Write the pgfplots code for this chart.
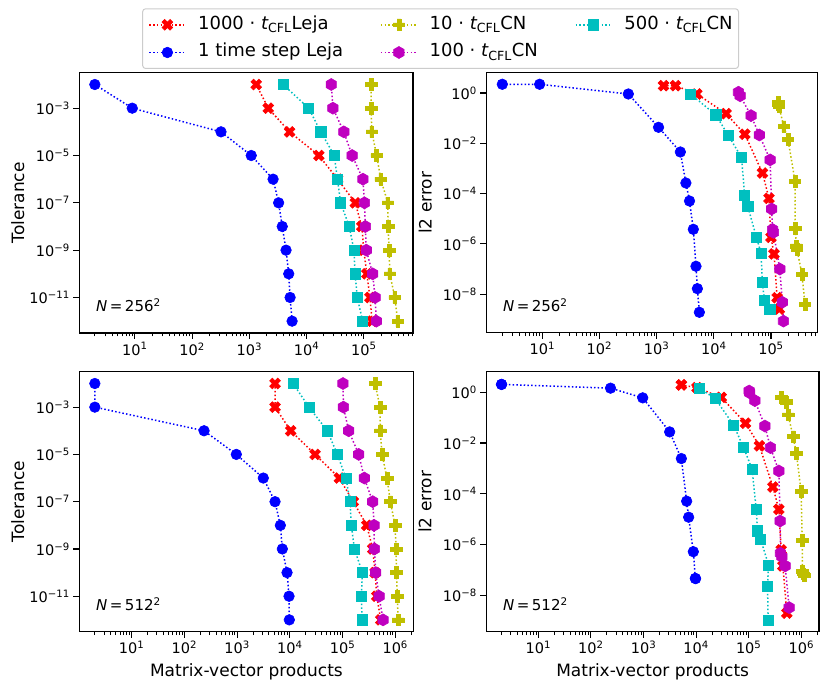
\documentclass[border=0pt]{standalone}
\usepackage{fontspec}
\setmainfont{DejaVu Sans}
\usepackage{pgfplots}
\pgfplotsset{compat=1.18}

\definecolor{mplred}{rgb}{1,0,0}
\definecolor{mplblue}{rgb}{0,0,1}
\definecolor{mply}{rgb}{0.75,0.75,0}
\definecolor{mplm}{rgb}{0.75,0,0.75}
\definecolor{mplc}{rgb}{0,0.75,0.75}

\newcommand{\tickfont}{\fontsize{14.5}{17}\selectfont}
\newcommand{\labfont}{\fontsize{17}{20}\selectfont}
\newcommand{\legfont}{\fontsize{18}{21}\selectfont}
\newcommand{\nfont}{\fontsize{15}{18}\selectfont}

\pgfdeclareplotmark{Xf}{%
  \pgfpathmoveto{\pgfqpoint{0.4714\pgfplotmarksize}{-0.9428\pgfplotmarksize}}%
  \pgfpathlineto{\pgfqpoint{0pt}{-0.4714\pgfplotmarksize}}%
  \pgfpathlineto{\pgfqpoint{-0.4714\pgfplotmarksize}{-0.9428\pgfplotmarksize}}%
  \pgfpathlineto{\pgfqpoint{-0.9428\pgfplotmarksize}{-0.4714\pgfplotmarksize}}%
  \pgfpathlineto{\pgfqpoint{-0.4714\pgfplotmarksize}{0pt}}%
  \pgfpathlineto{\pgfqpoint{-0.9428\pgfplotmarksize}{0.4714\pgfplotmarksize}}%
  \pgfpathlineto{\pgfqpoint{-0.4714\pgfplotmarksize}{0.9428\pgfplotmarksize}}%
  \pgfpathlineto{\pgfqpoint{0pt}{0.4714\pgfplotmarksize}}%
  \pgfpathlineto{\pgfqpoint{0.4714\pgfplotmarksize}{0.9428\pgfplotmarksize}}%
  \pgfpathlineto{\pgfqpoint{0.9428\pgfplotmarksize}{0.4714\pgfplotmarksize}}%
  \pgfpathlineto{\pgfqpoint{0.4714\pgfplotmarksize}{0pt}}%
  \pgfpathlineto{\pgfqpoint{0.9428\pgfplotmarksize}{-0.4714\pgfplotmarksize}}%
  \pgfpathclose\pgfusepathqfillstroke}
\pgfdeclareplotmark{Pf}{%
  \pgfpathmoveto{\pgfqpoint{-0.3333\pgfplotmarksize}{-\pgfplotmarksize}}%
  \pgfpathlineto{\pgfqpoint{-0.3333\pgfplotmarksize}{-0.3333\pgfplotmarksize}}%
  \pgfpathlineto{\pgfqpoint{-\pgfplotmarksize}{-0.3333\pgfplotmarksize}}%
  \pgfpathlineto{\pgfqpoint{-\pgfplotmarksize}{0.3333\pgfplotmarksize}}%
  \pgfpathlineto{\pgfqpoint{-0.3333\pgfplotmarksize}{0.3333\pgfplotmarksize}}%
  \pgfpathlineto{\pgfqpoint{-0.3333\pgfplotmarksize}{\pgfplotmarksize}}%
  \pgfpathlineto{\pgfqpoint{0.3333\pgfplotmarksize}{\pgfplotmarksize}}%
  \pgfpathlineto{\pgfqpoint{0.3333\pgfplotmarksize}{0.3333\pgfplotmarksize}}%
  \pgfpathlineto{\pgfqpoint{\pgfplotmarksize}{0.3333\pgfplotmarksize}}%
  \pgfpathlineto{\pgfqpoint{\pgfplotmarksize}{-0.3333\pgfplotmarksize}}%
  \pgfpathlineto{\pgfqpoint{0.3333\pgfplotmarksize}{-0.3333\pgfplotmarksize}}%
  \pgfpathlineto{\pgfqpoint{0.3333\pgfplotmarksize}{-\pgfplotmarksize}}%
  \pgfpathclose\pgfusepathqfillstroke}
\pgfdeclareplotmark{Hf}{%
  \pgfpathmoveto{\pgfqpoint{0pt}{\pgfplotmarksize}}%
  \pgfpathlineto{\pgfqpoint{-0.866\pgfplotmarksize}{0.5\pgfplotmarksize}}%
  \pgfpathlineto{\pgfqpoint{-0.866\pgfplotmarksize}{-0.5\pgfplotmarksize}}%
  \pgfpathlineto{\pgfqpoint{0pt}{-\pgfplotmarksize}}%
  \pgfpathlineto{\pgfqpoint{0.866\pgfplotmarksize}{-0.5\pgfplotmarksize}}%
  \pgfpathlineto{\pgfqpoint{0.866\pgfplotmarksize}{0.5\pgfplotmarksize}}%
  \pgfpathclose\pgfusepathqfillstroke}

\tikzset{
  dotline/.style={line width=1.5pt, dash pattern=on 1.5pt off 2.2pt},
  sred/.style={dotline, color=mplred, mark=Xf, mark size=5.7pt, mark options={solid, fill=mplred, line width=0.6pt}},
  sblue/.style={dotline, color=mplblue, mark=*, mark size=5.3pt, mark options={solid, fill=mplblue, line width=0.6pt}},
  syel/.style={dotline, color=mply, mark=Pf, mark size=5.8pt, mark options={solid, fill=mply, line width=0.6pt}},
  smag/.style={dotline, color=mplm, mark=Hf, mark size=6pt, mark options={solid, fill=mplm, line width=0.6pt}},
  scyan/.style={dotline, color=mplc, mark=square*, mark size=5.1pt, mark options={solid, fill=mplc, line width=0.6pt}},
}

\pgfplotsset{
  scale only axis,
  tick align=outside, tick pos=left,
  major tick length=6pt, minor tick length=3.5pt,
  every major tick/.append style={black, line width=1.1pt},
  every minor tick/.append style={black, line width=0.8pt},
  axis line style={line width=1.1pt, black},
  every tick label/.append style={font=\tickfont},
  every axis label/.append style={font=\labfont},
  every axis y label/.append style={at={(axis description cs:-0.184,0.5)}, anchor=center},
  every axis x label/.append style={at={(axis description cs:0.5,-0.155)}, anchor=center},
}

\begin{document}
\begin{tikzpicture}
\useasboundingbox (0pt,0pt) rectangle (830pt,692pt);

% ---------------- top left ----------------
\begin{axis}[xmode=log, ymode=log, yminorticks=false,
  minor xtick={2,3,4,5,6,7,8,9,20,30,40,50,60,70,80,90,200,300,400,500,600,700,800,900,2e3,3e3,4e3,5e3,6e3,7e3,8e3,9e3,2e4,3e4,4e4,5e4,6e4,7e4,8e4,9e4,2e5,3e5,4e5,5e5,6e5,7e5},
  xtick={1e1,1e2,1e3,1e4,1e5},
  xticklabels={10\textsuperscript{1},10\textsuperscript{2},10\textsuperscript{3},10\textsuperscript{4},10\textsuperscript{5}},
  ytick={1e-3,1e-5,1e-7,1e-9,1e-11},
  yticklabels={10\textsuperscript{−3},10\textsuperscript{−5},10\textsuperscript{−7},10\textsuperscript{−9},10\textsuperscript{−11}},
  ylabel={Tolerance}, ymin=3.16e-13, ymax=3.16e-2,
  at={(79.3pt,359pt)}, anchor=south west,
  width=333.7pt, height=260.3pt, xmin=1.07, xmax=7.24e5,
  legend image code/.code={\draw[mark repeat=2,mark phase=2,#1] plot coordinates {(0pt,0pt) (18pt,0pt) (36pt,0pt)};},
  legend columns=3, legend cell align=left,
  legend style={at={(axis description cs:1.0827,1.0142)}, anchor=south,
    draw=black!20, rounded corners=3pt, line width=1pt, font=\legfont,
    inner xsep=6pt, inner ysep=7.5pt, row sep=10.7pt,
    nodes={inner xsep=0pt, inner ysep=0pt, text height=13pt, text depth=4pt},
    /tikz/every odd column/.append style={column sep=12pt},
    /tikz/every even column/.append style={column sep=37pt}}]
\addplot[sred, forget plot] coordinates {(1320,1e-2) (2140,1e-3) (5050,1e-4) (16400,1e-5) (34900,1e-6) (71000,1e-7) (92300,1e-8) (100000,1e-9) (113000,1e-10) (128000,1e-11) (140000,1e-12)};
\addplot[sblue, forget plot] coordinates {(2,1e-2) (9,1e-3) (320,1e-4) (1080,1e-5) (2600,1e-6) (3250,1e-7) (3760,1e-8) (4380,1e-9) (4880,1e-10) (5160,1e-11) (5590,1e-12)};
\addplot[syel, forget plot] coordinates {(134000,1e-2) (134000,1e-3) (138000,1e-4) (168000,1e-5) (198000,1e-6) (263000,1e-7) (266000,1e-8) (277000,1e-9) (285000,1e-10) (348000,1e-11) (393000,1e-12)};
\addplot[smag, forget plot] coordinates {(27000,1e-2) (28900,1e-3) (44750,1e-4) (62500,1e-5) (96700,1e-6) (102800,1e-7) (106500,1e-8) (110500,1e-9) (143000,1e-10) (157500,1e-11) (165500,1e-12)};
\addplot[scyan, forget plot] coordinates {(3900,1e-2) (10850,1e-3) (17750,1e-4) (30500,1e-5) (34700,1e-6) (39350,1e-7) (55750,1e-8) (67250,1e-9) (70500,1e-10) (77000,1e-11) (95500,1e-12)};
\addlegendimage{sred}\addlegendentry{1000 · {\itshape t}\textsubscript{CFL}Leja}
\addlegendimage{syel}\addlegendentry{10 · {\itshape t}\textsubscript{CFL}CN}
\addlegendimage{scyan}\addlegendentry{500 · {\itshape t}\textsubscript{CFL}CN}
\addlegendimage{sblue}\addlegendentry{1 time step Leja}
\addlegendimage{smag}\addlegendentry{100 · {\itshape t}\textsubscript{CFL}CN}
\node[anchor=base west, font=\nfont, inner sep=0pt] at (axis description cs:0.05,0.082) {{\itshape N}\,=\,256\textsuperscript{2}};
\end{axis}

% ---------------- top right ----------------
\begin{axis}[xmode=log, ymode=log, yminorticks=false,
  minor xtick={2,3,4,5,6,7,8,9,20,30,40,50,60,70,80,90,200,300,400,500,600,700,800,900,2e3,3e3,4e3,5e3,6e3,7e3,8e3,9e3,2e4,3e4,4e4,5e4,6e4,7e4,8e4,9e4,2e5,3e5,4e5,5e5,6e5},
  xtick={1e1,1e2,1e3,1e4,1e5},
  xticklabels={10\textsuperscript{1},10\textsuperscript{2},10\textsuperscript{3},10\textsuperscript{4},10\textsuperscript{5}},
  ytick={1,1e-2,1e-4,1e-6,1e-8},
  yticklabels={10\textsuperscript{0},10\textsuperscript{−2},10\textsuperscript{−4},10\textsuperscript{−6},10\textsuperscript{−8}},
  ylabel={l2 error},
  at={(486.3pt,359.3pt)}, anchor=south west,
  width=331pt, height=260pt, xmin=1.05, xmax=6.46e5, ymin=2.95e-10, ymax=6.41]
\addplot[sred] coordinates {(1320,1.95) (2140,1.95) (5050,0.912) (16400,0.151) (34900,0.0229) (71000,6.61e-4) (92300,6.46e-5) (100000,1.82e-6) (113000,3.98e-7) (128000,7.24e-9) (140000,2.57e-9)};
\addplot[sblue] coordinates {(2,2.22) (9,2.22) (320,0.912) (1080,0.0432) (2600,4.51e-3) (3250,2.64e-4) (3760,5.08e-5) (4380,3.80e-6) (4880,1.29e-7) (5160,1.66e-8) (5590,1.91e-9)};
\addplot[syel] coordinates {(134000,0.427) (134000,0.363) (138000,0.288) (168000,0.0457) (198000,0.0148) (263000,3.16e-4) (266000,4.17e-6) (277000,8.32e-7) (285000,6.03e-7) (348000,6.17e-8) (393000,4.07e-9)};
\addplot[smag] coordinates {(27000,1.07) (28900,0.776) (44750,0.126) (62500,0.0214) (96700,2.19e-3) (102800,2.45e-5) (106500,3.72e-6) (110500,2.88e-6) (143000,1.0e-7) (157500,4.79e-9) (165500,8.51e-10)};
\addplot[scyan] coordinates {(3900,0.912) (10850,0.135) (17750,0.0214) (30500,2.75e-3) (34700,8.71e-5) (39350,3.02e-5) (55750,1.82e-6) (67250,4.17e-7) (70500,3.02e-8) (77000,5.75e-9) (95500,2.57e-9)};
\node[anchor=base west, font=\nfont, inner sep=0pt] at (axis description cs:0.05,0.082) {{\itshape N}\,=\,256\textsuperscript{2}};
\end{axis}

% ---------------- bottom left ----------------
\begin{axis}[xmode=log, ymode=log, yminorticks=false,
  minor xtick={2,3,4,5,6,7,8,9,20,30,40,50,60,70,80,90,200,300,400,500,600,700,800,900,2e3,3e3,4e3,5e3,6e3,7e3,8e3,9e3,2e4,3e4,4e4,5e4,6e4,7e4,8e4,9e4,2e5,3e5,4e5,5e5,6e5,7e5,8e5,9e5,2e6},
  xtick={1e1,1e2,1e3,1e4,1e5,1e6},
  xticklabels={10\textsuperscript{1},10\textsuperscript{2},10\textsuperscript{3},10\textsuperscript{4},10\textsuperscript{5},10\textsuperscript{6}},
  xlabel={Matrix-vector products},
  ytick={1e-3,1e-5,1e-7,1e-9,1e-11},
  yticklabels={10\textsuperscript{−3},10\textsuperscript{−5},10\textsuperscript{−7},10\textsuperscript{−9},10\textsuperscript{−11}},
  ylabel={Tolerance}, ymin=3.16e-13, ymax=3.16e-2,
  at={(79.3pt,60.3pt)}, anchor=south west,
  width=334.2pt, height=260pt, xmin=1.014, xmax=2.22e6]
\addplot[sred] coordinates {(5240,1e-2) (5240,1e-3) (10400,1e-4) (30100,1e-5) (86900,1e-6) (160000,1e-7) (288000,1e-8) (374000,1e-9) (414000,1e-10) (446000,1e-11) (531000,1e-12)};
\addplot[sblue] coordinates {(2,1e-2) (2,1e-3) (236,1e-4) (966,1e-5) (3140,1e-6) (5240,1e-7) (6610,1e-8) (7210,1e-9) (8850,1e-10) (9660,1e-11) (9780,1e-12)};
\addplot[syel] coordinates {(414000,1e-2) (515000,1e-3) (521000,1e-4) (562000,1e-5) (698000,1e-6) (807000,1e-7) (991000,1e-8) (1040000,1e-9) (1050000,1e-10) (1100000,1e-11) (1130000,1e-12)};
\addplot[smag] coordinates {(102000,1e-2) (104000,1e-3) (131000,1e-4) (203000,1e-5) (259000,1e-6) (374000,1e-7) (396000,1e-8) (402000,1e-9) (426000,1e-10) (493000,1e-11) (587000,1e-12)};
\addplot[scyan] coordinates {(11500,1e-2) (23100,1e-3) (51500,1e-4) (79800,1e-5) (116000,1e-6) (139000,1e-7) (147000,1e-8) (168000,1e-9) (238000,1e-10) (228000,1e-11) (234000,1e-12)};
\node[anchor=base west, font=\nfont, inner sep=0pt] at (axis description cs:0.05,0.082) {{\itshape N}\,=\,512\textsuperscript{2}};
\end{axis}

% ---------------- bottom right ----------------
\begin{axis}[xmode=log, ymode=log, yminorticks=false,
  minor xtick={2,3,4,5,6,7,8,9,20,30,40,50,60,70,80,90,200,300,400,500,600,700,800,900,2e3,3e3,4e3,5e3,6e3,7e3,8e3,9e3,2e4,3e4,4e4,5e4,6e4,7e4,8e4,9e4,2e5,3e5,4e5,5e5,6e5,7e5,8e5,9e5,2e6},
  xtick={1e1,1e2,1e3,1e4,1e5,1e6},
  xticklabels={10\textsuperscript{1},10\textsuperscript{2},10\textsuperscript{3},10\textsuperscript{4},10\textsuperscript{5},10\textsuperscript{6}},
  xlabel={Matrix-vector products},
  ytick={1,1e-2,1e-4,1e-6,1e-8},
  yticklabels={10\textsuperscript{0},10\textsuperscript{−2},10\textsuperscript{−4},10\textsuperscript{−6},10\textsuperscript{−8}},
  ylabel={l2 error},
  at={(486.3pt,60.3pt)}, anchor=south west,
  width=332.7pt, height=260pt, xmin=1.026, xmax=2.17e6, ymin=3.72e-10, ymax=6.46]
\addplot[sred] coordinates {(5240,1.95) (5240,1.95) (10400,1.51) (30100,0.631) (86900,0.0603) (160000,7.76e-3) (288000,1.86e-4) (374000,2.45e-5) (414000,6.17e-7) (446000,1.45e-7) (531000,2.0e-9)};
\addplot[sblue] coordinates {(2,2.04) (2,2.04) (236,1.45) (966,0.603) (3140,0.0275) (5240,2.45e-3) (6610,5.13e-5) (7210,1.20e-5) (8850,5.25e-7) (9660,4.68e-8) (9780,4.57e-8)};
\addplot[syel] coordinates {(414000,0.631) (515000,0.427) (521000,0.398) (562000,0.129) (698000,0.0178) (807000,3.98e-3) (991000,1.23e-4) (1040000,1.45e-6) (1050000,9.12e-8) (1100000,7.08e-8) (1130000,6.31e-8)};
\addplot[smag] coordinates {(102000,1.12) (104000,0.955) (131000,0.468) (203000,0.0468) (259000,6.61e-3) (374000,7.94e-4) (396000,8.51e-6) (402000,4.57e-7) (426000,3.39e-7) (493000,1.45e-7) (587000,3.31e-9)};
\addplot[scyan] coordinates {(11500,1.45) (23100,0.562) (51500,0.0513) (79800,6.76e-3) (116000,9.33e-4) (139000,2.40e-5) (147000,3.47e-6) (168000,1.66e-6) (238000,1.58e-7) (228000,2.34e-8) (234000,1.02e-9)};
\node[anchor=base west, font=\nfont, inner sep=0pt] at (axis description cs:0.05,0.082) {{\itshape N}\,=\,512\textsuperscript{2}};
\end{axis}
\end{tikzpicture}
\end{document}
